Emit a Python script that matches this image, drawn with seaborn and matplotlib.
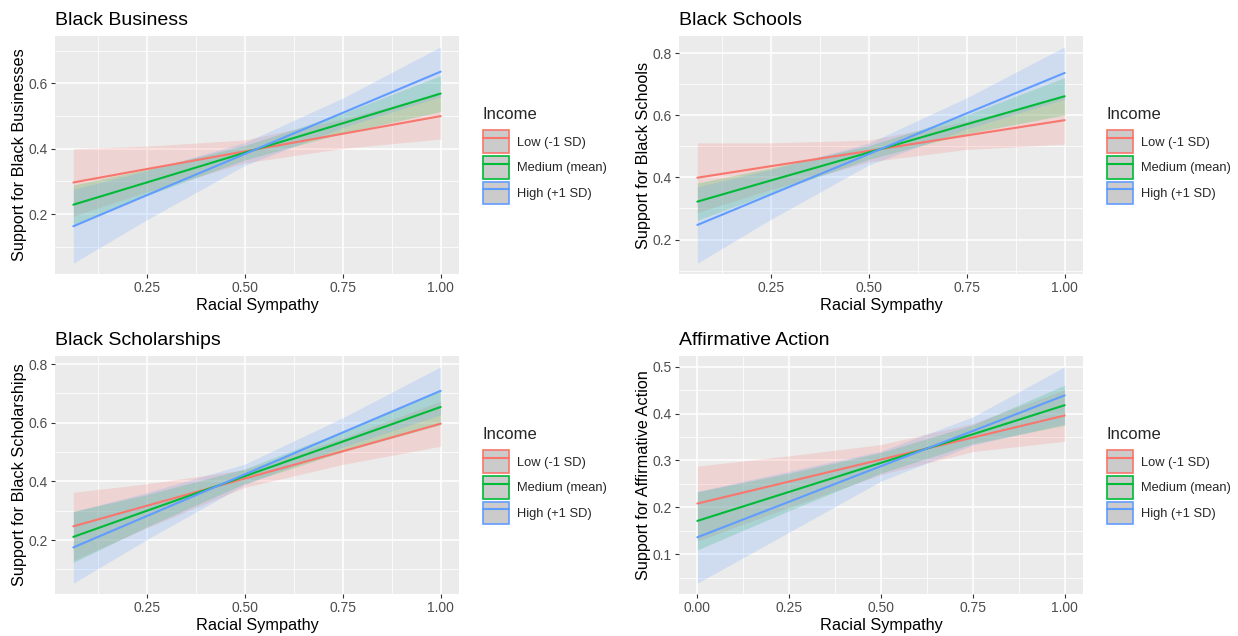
import numpy as np
import pandas as pd
import matplotlib
matplotlib.use("Agg")
import matplotlib.pyplot as plt
import seaborn as sns
from matplotlib.patches import Patch
from matplotlib.lines import Line2D
from matplotlib.ticker import FormatStrFormatter, MultipleLocator

x_sym = [0.0625, 0.25, 0.5, 0.75, 1.0]
x_aa = [0.0, 0.25, 0.5, 0.75, 1.0]

income_levels = ["Low (-1 SD)", "Medium (mean)", "High (+1 SD)"]
income_colors = ["#F8766D", "#00BA38", "#619CFF"]

# Black Business
business_fit = [[0.297, 0.338, 0.392, 0.446, 0.500],
                [0.229, 0.297, 0.388, 0.478, 0.569],
                [0.163, 0.258, 0.384, 0.510, 0.636]]
business_lower = [[0.194, 0.268, 0.357, 0.401, 0.430],
                  [0.169, 0.257, 0.366, 0.448, 0.514],
                  [0.050, 0.183, 0.349, 0.465, 0.560]]
business_upper = [[0.400, 0.408, 0.427, 0.491, 0.570],
                  [0.289, 0.337, 0.410, 0.508, 0.624],
                  [0.276, 0.333, 0.419, 0.555, 0.712]]

# Black Schools
schools_fit = [[0.399, 0.436, 0.485, 0.535, 0.584],
               [0.322, 0.390, 0.480, 0.571, 0.661],
               [0.247, 0.345, 0.475, 0.606, 0.736]]
schools_lower = [[0.287, 0.361, 0.450, 0.490, 0.507],
                 [0.262, 0.350, 0.458, 0.541, 0.601],
                 [0.124, 0.265, 0.440, 0.556, 0.652]]
schools_upper = [[0.511, 0.511, 0.520, 0.580, 0.661],
                 [0.382, 0.430, 0.502, 0.601, 0.721],
                 [0.370, 0.425, 0.510, 0.656, 0.820]]

# Black Scholarships
scholar_fit = [[0.247, 0.317, 0.410, 0.503, 0.597],
               [0.211, 0.300, 0.418, 0.536, 0.654],
               [0.175, 0.282, 0.424, 0.567, 0.709]]
scholar_lower = [[0.131, 0.242, 0.380, 0.458, 0.520],
                 [0.124, 0.245, 0.393, 0.501, 0.594],
                 [0.053, 0.202, 0.389, 0.517, 0.627]]
scholar_upper = [[0.363, 0.392, 0.440, 0.548, 0.674],
                 [0.298, 0.355, 0.443, 0.571, 0.714],
                 [0.297, 0.362, 0.459, 0.617, 0.791]]

# Affirmative Action
aa_fit = [[0.208, 0.255, 0.302, 0.349, 0.396],
          [0.171, 0.233, 0.295, 0.356, 0.418],
          [0.136, 0.212, 0.288, 0.363, 0.439]]
aa_lower = [[0.128, 0.200, 0.270, 0.319, 0.341],
            [0.109, 0.193, 0.273, 0.336, 0.375],
            [0.038, 0.147, 0.256, 0.333, 0.378]]
aa_upper = [[0.288, 0.310, 0.334, 0.379, 0.451],
            [0.233, 0.273, 0.317, 0.376, 0.461],
            [0.234, 0.277, 0.320, 0.393, 0.500]]

panels = [
    ("Black Business", "Support for Black Businesses", x_sym, business_fit, business_lower, business_upper, 0.2, (55, 36)),
    ("Black Schools", "Support for Black Schools", x_sym, schools_fit, schools_lower, schools_upper, 0.2, (679, 36)),
    ("Black Scholarships", "Support for Black Scholarships", x_sym, scholar_fit, scholar_lower, scholar_upper, 0.2, (55, 356)),
    ("Affirmative Action", "Support for Affirmative Action", x_aa, aa_fit, aa_lower, aa_upper, 0.1, (679, 356)),
]

sns.set_theme(style="darkgrid")
plt.rcParams["font.family"] = ["Liberation Sans", "DejaVu Sans"]

W, H = 1238, 636
fig = plt.figure(figsize=(W / 100, H / 100), dpi=100)
fig.patch.set_facecolor("white")
pw, ph = 404, 238

for title, ylab, xs, fit, lower, upper, ystep, (px, py) in panels:
    ax = fig.add_axes([px / W, 1 - (py + ph) / H, pw / W, ph / H])
    ax.set_facecolor("#EBEBEB")

    rows = []
    for lvl, vals in zip(income_levels, fit):
        for xv, yv in zip(xs, vals):
            rows.append({"Racial Sympathy": xv, "Support": yv, "Income": lvl})
    df = pd.DataFrame(rows)

    for lvl, col, lo, hi in zip(income_levels, income_colors, lower, upper):
        ax.fill_between(xs, lo, hi, color=col, alpha=0.2, lw=0, zorder=2)
    sns.lineplot(data=df, x="Racial Sympathy", y="Support", hue="Income",
                 palette=income_colors, hue_order=income_levels, lw=1.5,
                 ax=ax, legend=False, zorder=3)

    # ggplot-like expansion
    x0, x1 = min(xs), max(xs)
    xp = 0.05 * (x1 - x0)
    ax.set_xlim(x0 - xp, x1 + xp)
    lo_all = min(min(r) for r in lower)
    hi_all = max(max(r) for r in upper)
    yp = 0.05 * (hi_all - lo_all)
    ax.set_ylim(lo_all - yp, hi_all + yp)

    ax.xaxis.set_major_locator(MultipleLocator(0.25))
    ax.xaxis.set_minor_locator(MultipleLocator(0.125))
    ax.yaxis.set_major_locator(MultipleLocator(ystep))
    ax.yaxis.set_minor_locator(MultipleLocator(ystep / 2))
    ax.xaxis.set_major_formatter(FormatStrFormatter("%.2f"))
    ax.yaxis.set_major_formatter(FormatStrFormatter("%.1f"))
    ax.grid(which="major", color="white", lw=1.1)
    ax.grid(which="minor", color="white", lw=0.55)
    ax.set_axisbelow(True)
    for s in ax.spines.values():
        s.set_visible(False)
    ax.tick_params(which="major", length=3, width=0.8, color="#333333",
                   labelcolor="#4D4D4D", labelsize=10, pad=2, bottom=True, left=True)
    ax.tick_params(which="minor", length=0)

    ax.set_title(title, loc="left", fontsize=14, pad=8, color="black")
    ax.set_xlabel("Racial Sympathy", fontsize=11.7, labelpad=2, color="black")
    ax.set_ylabel(ylab, fontsize=11.7, labelpad=1.5, color="black")

    handles = [(Patch(facecolor="#CBCBCB", edgecolor=c, lw=1.2),
                Line2D([], [], color=c, lw=1.5)) for c in income_colors]
    leg = ax.legend(handles, income_levels, title="Income", loc="upper left",
                    bbox_to_anchor=((px + pw + 24) / W, 1 - (py + 71) / H),
                    bbox_transform=fig.transFigure, frameon=False,
                    fontsize=9.3, title_fontsize=12, handlelength=2.0,
                    handleheight=2.3, labelspacing=0.25, handletextpad=0.6,
                    borderaxespad=0, borderpad=0)
    leg._legend_box.align = "left"
    leg._legend_box.sep = 6

fig.savefig("out.png", dpi=100, facecolor="white")
